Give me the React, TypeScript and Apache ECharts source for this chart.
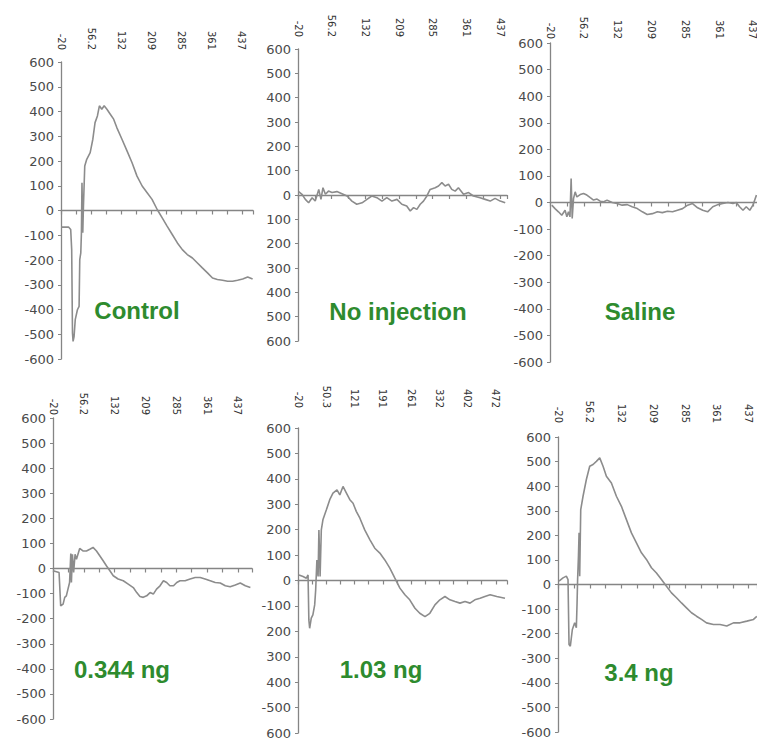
import React, { useEffect, useRef } from 'react';
import * as echarts from 'echarts';

// ---- Data (x = time, y = response) ----
const controlData: number[][] = [
  [-20, -67], [-1, -67], [4.5, -77], [7, -158], [9, -495], [10.5, -529], [13, -509], [16, -441],
  [21.5, -401], [25.7, -387], [27.4, -198], [30, -171], [31.6, -90], [33, 112], [35, -90], [36.7, 18],
  [40, 180], [45, 207], [53.7, 234], [60.4, 288], [66, 355], [72, 382], [77, 423], [83, 409],
  [89, 423], [96, 409], [104.5, 389], [113, 369], [121, 335], [134, 288], [147, 240], [159.5, 193],
  [172, 139], [185, 99], [197.6, 72], [210, 45], [223, 4], [235.7, -30], [248, -63], [261, -97],
  [274, -131], [286.5, -158], [299, -178], [312, -192], [324.6, -212], [337, -232], [350, -252],
  [362.7, -273], [375, -279], [388, -282], [401, -286], [413.5, -286], [426, -282], [439, -277],
  [451.6, -269], [464, -277],
];

const noInjectionData: number[][] = [
  [-18.5, 14], [-11, 3], [-3.4, -18], [4, -32], [12, -11], [19, -25], [27, 23], [32, -18],
  [36.5, 30], [42, 3], [49, 16], [57, 10], [68, 14], [79.5, 5], [91, -4], [102, -25], [113, -38],
  [125, -32], [136, -18], [147, -4], [158.6, -11], [170, -25], [181, -11], [192.5, -25], [204, -18],
  [215, -38], [226, -45], [234, -66], [241.5, -52], [249, -59], [256.6, -38], [264, -25], [271.7, -4],
  [279, 23], [290.5, 30], [298, 37], [305.6, 51], [313, 37], [320.7, 44], [328, 23], [335.7, 16],
  [343, 30], [354.6, 3], [366, 10], [377, -4], [392, -11], [403.6, -18], [415, -25], [426, -14],
  [437.5, -25], [449, -32],
];

const salineData: number[][] = [
  [-16, -10], [-8.7, -23], [-1, -35], [6.5, -48], [14, -29], [18, -54], [21.6, -35], [25, -54],
  [27.6, 90], [30, -60], [33, 15], [36.7, 40], [40.5, 21], [48, 30], [55.6, 34], [63, 28],
  [70.7, 18], [78, 9], [86, 13], [93, 5], [101, 3], [108.5, 9], [120, 0], [131, -4], [142.5, -10],
  [154, -8], [165, -16], [176.6, -23], [188, -35], [199, -45], [210.6, -42], [222, -35], [233, -38],
  [244.6, -33], [256, -35], [267, -29], [278.6, -23], [290, -10], [301, -4], [312.6, -20], [324, -29],
  [335, -35], [346.7, -16], [358, -8], [369, -4], [380.7, 0], [392, -4], [399.6, 0], [407, -16],
  [414.7, -29], [422, -16], [430, -29], [437, -10], [445, 28],
];

const ng0344Data: number[][] = [
  [-20, -9], [-5, -16], [-1, -149], [5, -142], [9, -115], [13, -109], [17, -82], [21, -56],
  [24, 60], [25.5, -56], [28, 57], [31, -16], [34.6, 57], [38, 37], [46, 80], [54, 70], [62.7, 70],
  [71, 77], [79, 84], [87.5, 70], [96, 50], [104, 31], [112, 11], [120.6, -9], [129, -29], [141, -42],
  [153.7, -49], [166, -62], [178.5, -76], [187, -96], [195, -112], [203, -115], [211.6, -109],
  [220, -96], [228, -102], [236, -82], [244.6, -69], [253, -49], [261, -56], [269, -69], [278, -69],
  [286, -56], [294, -49], [306.7, -49], [319, -42], [331.5, -36], [344, -36], [356, -42], [368.7, -49],
  [381, -56], [393.5, -58], [406, -69], [418, -73], [430.7, -66], [443, -58], [455.5, -69], [468, -76],
];

const ng103Data: number[][] = [
  [-17.5, 22], [-7.5, 16], [0.8, 9], [5, 22], [7, -155], [9, -188], [13, -148], [17, -135],
  [21.5, -96], [24, -37], [27, 81], [30, 16], [32, 199], [35, 16], [38, 199], [42, 239], [50.6, 278],
  [59, 318], [67, 344], [77, 357], [84, 337], [92, 370], [100.5, 344], [109, 318], [117, 304],
  [125, 272], [134, 245], [146, 199], [159, 160], [171, 127], [183.6, 108], [196, 81], [208.5, 49],
  [221, 9], [233.5, -30], [246, -56], [258, -76], [271, -109], [283, -129], [296, -142], [308, -129],
  [320.7, -96], [333, -76], [345.6, -63], [358, -76], [370.6, -83], [383, -89], [395.5, -83],
  [408, -89], [420, -76], [433, -70], [445, -63], [458, -56], [474.5, -63], [495, -70],
];

const ng34Data: number[][] = [
  [-17.6, 14], [-8, 27], [0, 34], [4, 20], [6.4, -244], [9.6, -251], [14.4, -183], [20, -156],
  [24, -176], [25.7, -75], [27, 20], [29, 115], [30.5, 210], [32, 34], [34.5, 305], [40, 359],
  [48, 427], [56, 481], [64, 488], [72, 501], [80, 515], [88, 481], [96, 440], [108, 413], [120, 359],
  [132, 318], [144, 264], [156, 210], [168, 169], [180, 129], [192, 102], [204, 68], [216, 47],
  [228, 20], [240, -7], [252, -34], [264, -54], [276, -75], [288, -95], [300, -115], [312, -129],
  [324, -142], [336, -156], [352.5, -163], [368.5, -163], [384.5, -169], [400.5, -156], [416.5, -156],
  [432.6, -149], [448.6, -142], [456.6, -129],
];

// ---- Tick labels ----
const xLabelsA = ['-20', '56.2', '132', '209', '285', '361', '437'];
const xLabelsB = ['-20', '50.3', '121', '191', '261', '332', '402', '472'];
const xStepA = 76.2;
const xStepB = 70.3;

const yLabelsStd = ['-600', '-500', '-400', '-300', '-200', '-100', '0', '100', '200', '300', '400', '500', '600'];
const yLabelsNoInj = ['600', '500', '400', '300', '200', '100', '0', '100', '200', '300', '400', '500', '600'];
const yLabels103 = ['600', '-500', '400', '300', '200', '-100', '0', '100', '200', '300', '400', '500', '600'];

const panelNames = ['Control', 'No injection', 'Saline', '0.344 ng', '1.03 ng', '3.4 ng'];

// ---- Layout ----
const panels = [
  { name: panelNames[0], data: controlData, xLabels: xLabelsA, step: xStepA, max: 465, yLabels: yLabelsStd,
    left: 61, top: 62, width: 192, height: 297, margin: 12, tx: 137, ty: 310 },
  { name: panelNames[1], data: noInjectionData, xLabels: xLabelsA, step: xStepA, max: 453, yLabels: yLabelsNoInj,
    left: 298, top: 49, width: 209, height: 292, margin: 12, tx: 398, ty: 311 },
  { name: panelNames[2], data: salineData, xLabels: xLabelsA, step: xStepA, max: 453, yLabels: yLabelsStd,
    left: 550, top: 43, width: 210, height: 319, margin: 4, tx: 640, ty: 311 },
  { name: panelNames[3], data: ng0344Data, xLabels: xLabelsA, step: xStepA, max: 472, yLabels: yLabelsStd,
    left: 53, top: 418, width: 199, height: 301, margin: 3, tx: 122, ty: 669 },
  { name: panelNames[4], data: ng103Data, xLabels: xLabelsB, step: xStepB, max: 500, yLabels: yLabels103,
    left: 298, top: 428, width: 209, height: 305, margin: 20, tx: 381, ty: 669 },
  { name: panelNames[5], data: ng34Data, xLabels: xLabelsA, step: xStepA, max: 457, yLabels: yLabelsStd,
    left: 558, top: 437, width: 199, height: 295, margin: 14, tx: 639, ty: 672 },
];

export default function App() {
  const ref = useRef<HTMLDivElement>(null);

  useEffect(() => {
    if (!ref.current) return;
    const chart = echarts.init(ref.current, undefined, { renderer: 'svg' });
    const axisColor = '#858585';
    const option: any = {
      animation: false,
      backgroundColor: '#ffffff',
      grid: panels.map((p) => ({
        left: p.left, top: p.top, width: p.width, height: p.height,
        containLabel: false, outerBoundsMode: 'none',
      })),
      xAxis: panels.flatMap((p, i) => [
        {
          type: 'value', gridIndex: i, position: 'top', min: -20, max: p.max, interval: p.step,
          axisLine: { show: false, onZero: false },
          axisTick: { show: false },
          splitLine: { show: false },
          axisLabel: {
            rotate: 90, margin: p.margin, fontSize: 10, fontFamily: 'DejaVu Sans', color: '#333',
            showMaxLabel: false, showMinLabel: true, hideOverlap: false,
            formatter: (_v: number, idx: number) => p.xLabels[idx] ?? '',
          },
        },
        {
          type: 'value', gridIndex: i, position: 'bottom', min: -20, max: p.max, interval: p.step / 2,
          axisLine: { show: true, onZero: true, lineStyle: { color: axisColor, width: 1.3 } },
          axisTick: { show: true, length: 4, lineStyle: { color: axisColor, width: 1.2 } },
          axisLabel: { show: false },
          splitLine: { show: false },
        },
      ]),
      yAxis: panels.map((p, i) => ({
        type: 'value', gridIndex: i, min: -600, max: 600, interval: 100,
        axisLine: { show: true, onZero: false, lineStyle: { color: axisColor, width: 1.3 } },
        axisTick: { show: true, length: 3, lineStyle: { color: axisColor } },
        splitLine: { show: false },
        axisLabel: {
          margin: 7, fontSize: 13, fontFamily: 'DejaVu Sans', color: '#4a4a4a',
          formatter: (v: number) => p.yLabels[Math.round((v + 600) / 100)] ?? '',
        },
      })),
      series: panels.map((p, i) => ({
        type: 'line', name: p.name, xAxisIndex: 2 * i, yAxisIndex: i, data: p.data,
        showSymbol: false, symbol: 'none', silent: true,
        lineStyle: { color: '#8c8c8c', width: 1.6 },
      })),
      graphic: panels.map((p) => ({
        type: 'text', x: p.tx, y: p.ty,
        style: {
          text: p.name, font: 'bold 24px "Liberation Sans", Arial, sans-serif', fill: '#2e8b2e',
          textAlign: 'center', textVerticalAlign: 'middle', align: 'center', verticalAlign: 'middle',
        },
      })),
    };
    chart.setOption(option);
    return () => chart.dispose();
  }, []);

  return (
    <div
      ref={ref}
      style={{ position: 'fixed', left: 0, top: 0, width: 757, height: 739, background: '#fff' }}
    />
  );
}
